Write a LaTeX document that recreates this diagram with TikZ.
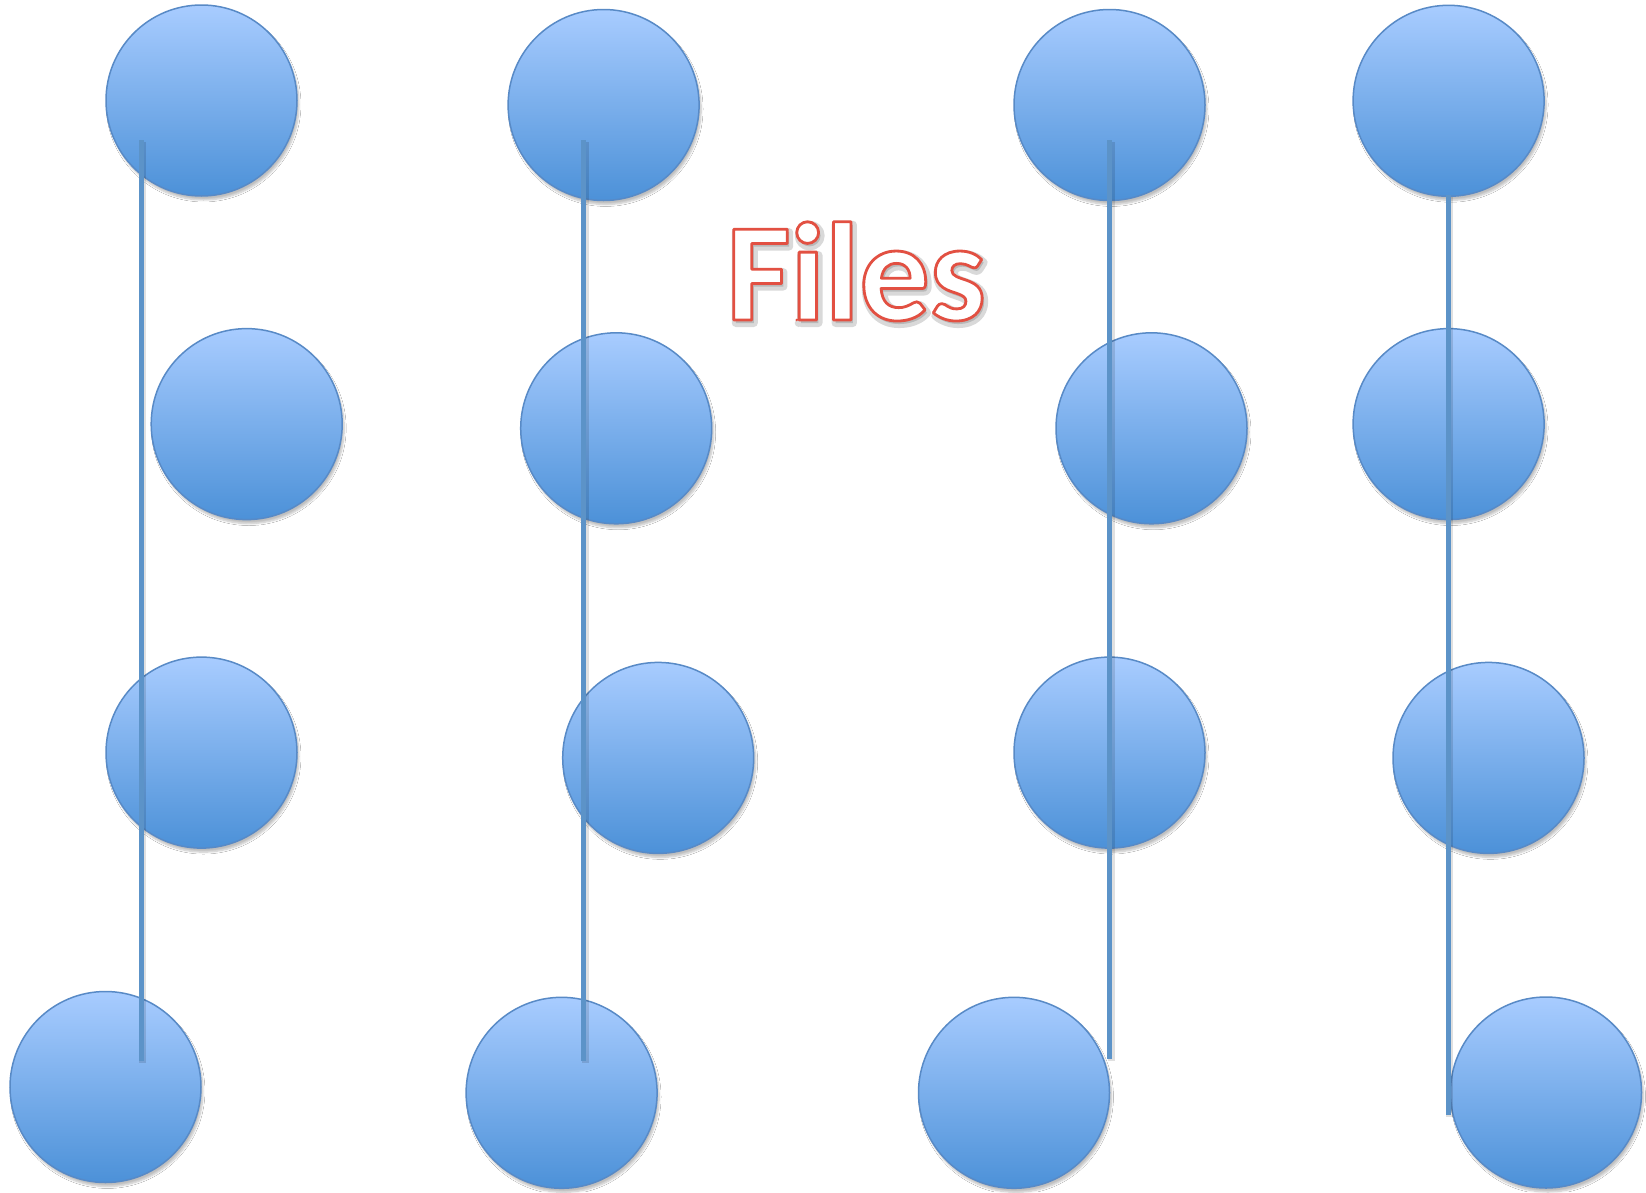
\documentclass[tikz,border=0pt]{standalone}
\usepackage{fontspec}
\setmainfont{Carlito}
\usetikzlibrary{shadows,shadows.blur}
\definecolor{ballTop}{RGB}{168,204,255}
\definecolor{ballBot}{RGB}{76,145,216}
\definecolor{ballEdge}{RGB}{88,138,198}
\definecolor{stemCol}{RGB}{92,147,200}
\tikzset{
  ball/.style={circle, minimum size=191pt, inner sep=0pt, line width=1.5pt,
    draw=ballEdge, top color=ballTop, bottom color=ballBot,
    blur shadow={shadow xshift=2pt, shadow yshift=-4pt, shadow blur steps=6, shadow opacity=25}},
  stem/.style={line width=5pt, draw=stemCol},
  stemshade/.style={line width=7pt, draw=black, opacity=0.12},
}
% glyphs filled with the current colour and stroked with a given rgb rim
% #1 = rim width (bp), #2 = rim rgb, #3 = text
\newcommand\rimtext[3]{%
  \special{pdf:code q #1 w 1 j 1 J 2 Tr #2 RG}#3\special{pdf:code Q}}
\begin{document}
\begin{tikzpicture}[x=1pt,y=-1pt]
\useasboundingbox[fill=white] (0,0) rectangle (1646,1192);
% balls, column by column
\node[ball] (c11) at (201.5,100.5) {};
\node[ball] (c12) at (246.7,424.1) {};
\node[ball] (c13) at (201.5,752.6) {};
\node[ball] (c14) at (105.5,1087) {};
\node[ball] (c21) at (603.6,105) {};
\node[ball] (c22) at (616.2,428.3) {};
\node[ball] (c23) at (658.2,757.9) {};
\node[ball] (c24) at (561.6,1092.8) {};
\node[ball] (c31) at (1109.5,105) {};
\node[ball] (c32) at (1151.5,428.3) {};
\node[ball] (c33) at (1109.5,752.6) {};
\node[ball] (c34) at (1014,1092.8) {};
\node[ball] (c41) at (1448.6,100.8) {};
\node[ball] (c42) at (1448.6,424.1) {};
\node[ball] (c43) at (1488.5,757.9) {};
\node[ball] (c44) at (1546,1092.5) {};
% vertical stems
\coordinate (s1a) at (141,140);   \coordinate (s1b) at (141,1061);
\coordinate (s2a) at (583.6,140); \coordinate (s2b) at (583.6,1061);
\coordinate (s3a) at (1109.8,140);\coordinate (s3b) at (1109.8,1059);
\coordinate (s4a) at (1448.3,195);\coordinate (s4b) at (1448.3,1115);
\foreach \s in {1,2,3,4}{
  \draw[stemshade] ([shift={(1.5,2)}]s\s a) -- ([shift={(1.5,2)}]s\s b);
  \draw[stem] (s\s a) -- (s\s b);
}
% title: white letters with a red rim over a soft grey halo
\node[anchor=base, inner sep=0pt, opacity=0.15] (titleshade) at (858,323)
  {\fontsize{140}{140}\selectfont\bfseries
   \textcolor{black}{\rimtext{8}{0 0 0}{Files}}};
\node[anchor=base, inner sep=0pt] (title) at (856,320)
  {\fontsize{140}{140}\selectfont\bfseries
   \textcolor{white}{\rimtext{2.8}{0.886 0.314 0.259}{Files}}};
\end{tikzpicture}
\end{document}
